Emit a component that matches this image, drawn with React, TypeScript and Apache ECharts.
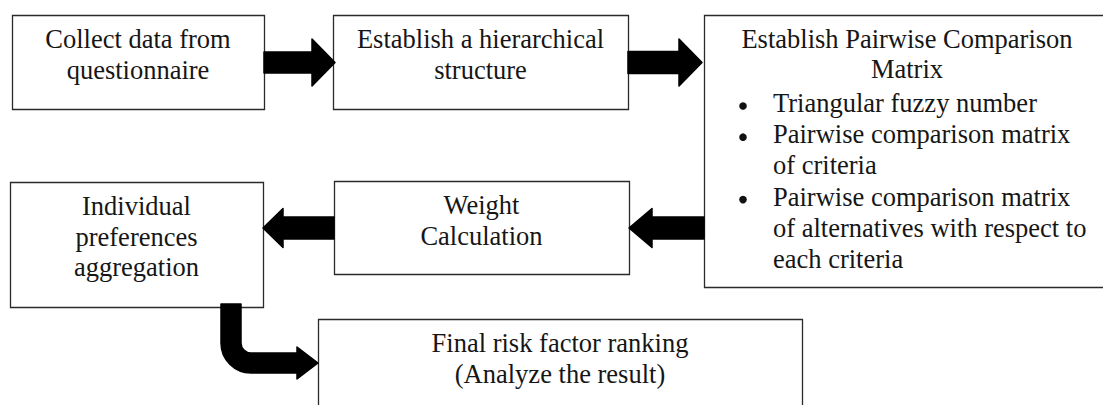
import React, { useEffect, useRef } from "react";
import * as echarts from "echarts";

// ---- content ----
const stepLabels: string[][] = [
  ["Collect data from", "questionnaire"],
  ["Establish a hierarchical", "structure"],
  ["Establish Pairwise Comparison", "Matrix"],
  ["Weight", "Calculation"],
  ["Individual", "preferences", "aggregation"],
  ["Final risk factor ranking", "(Analyze the result)"],
];
const matrixBullets: string[][] = [
  ["Triangular fuzzy number"],
  ["Pairwise comparison matrix", "of criteria"],
  ["Pairwise comparison matrix", "of alternatives with respect to", "each criteria"],
];
const flowLinks: [number, number][] = [
  [0, 1],
  [1, 2],
  [2, 3],
  [3, 4],
  [4, 5],
];

// ---- layout ----
const boxes = [
  { x: 12, y: 15, w: 252, h: 94 },
  { x: 333, y: 15, w: 295, h: 94 },
  { x: 704, y: 15, w: 406, h: 272 },
  { x: 334, y: 181, w: 295, h: 93 },
  { x: 10, y: 182, w: 253, h: 125 },
  { x: 318, y: 319, w: 484, h: 110 },
];
const straightLinkLayout = [
  { y: 62.5, shaft: 10.5, head: 23.5, headLen: 23, tipOffset: 2 },
  { y: 62.5, shaft: 11, head: 23.5, headLen: 23, tipOffset: -2 },
  { y: 228, shaft: 11, head: 19.5, headLen: 23, tipOffset: 0 },
  { y: 228, shaft: 11, head: 19.5, headLen: 20, tipOffset: 0 },
];

const FONT = "Liberation Serif";
const FONT_SIZE = 26.5;
const FIRST_BASELINE = 33;
const LINE_GAP = 30.5;
const MID_SHIFT = 9; // alphabetic baseline -> central
const TEXT_COLOR = "#161616";

function textLine(text: string, x: number, baseline: number, align: string) {
  return {
    type: "text",
    x,
    y: baseline - MID_SHIFT,
    silent: true,
    style: {
      text,
      fill: TEXT_COLOR,
      fontFamily: FONT,
      fontSize: FONT_SIZE,
      align,
      verticalAlign: "middle",
    },
  };
}

function buildGraphics() {
  const els: any[] = [];
  boxes.forEach((b) => {
    els.push({
      type: "rect",
      shape: { x: b.x + 0.5, y: b.y + 0.5, width: b.w, height: b.h },
      style: { fill: "#fff", stroke: "#2a2a2a", lineWidth: 1.3 },
      silent: true,
    });
  });
  stepLabels.forEach((lines, i) => {
    const b = boxes[i];
    const cx = b.x + b.w / 2;
    lines.forEach((t, k) => {
      els.push(textLine(t, cx, b.y + FIRST_BASELINE + k * (i === 2 ? 30 : LINE_GAP), "center"));
    });
  });
  const mb = boxes[2];
  let baseline = mb.y + FIRST_BASELINE + 30 + 34;
  const bulletGap = 31.2;
  matrixBullets.forEach((lines) => {
    els.push({
      type: "circle",
      shape: { cx: mb.x + 39, cy: baseline - 6, r: 3.8 },
      style: { fill: "#111" },
      silent: true,
    });
    lines.forEach((t) => {
      els.push(textLine(t, mb.x + 69, baseline, "left"));
      baseline += bulletGap;
    });
  });
  flowLinks.slice(0, 4).forEach(([from, to], i) => {
    const a = boxes[from];
    const c = boxes[to];
    const L = straightLinkLayout[i];
    const dir = c.x > a.x ? 1 : -1;
    const x0 = dir > 0 ? a.x + a.w : a.x;
    const x2 = (dir > 0 ? c.x : c.x + c.w) + dir * L.tipOffset;
    const x1 = x2 - dir * L.headLen;
    const y = L.y;
    els.push({
      type: "polygon",
      shape: {
        points: [
          [x0, y - L.shaft],
          [x1, y - L.shaft],
          [x1, y - L.head],
          [x2, y],
          [x1, y + L.head],
          [x1, y + L.shaft],
          [x0, y + L.shaft],
        ],
      },
      style: { fill: "#000", stroke: "#000", lineWidth: 1.5, lineJoin: "round" },
      silent: true,
    });
  });
  {
    const [from, to] = flowLinks[4];
    const a = boxes[from];
    const c = boxes[to];
    const sx = a.x + 221; // shaft centre x
    const half = 10;
    const top = a.y + a.h - 3;
    const cy = c.y + 44; // horizontal shaft centre y
    const r = 20;
    const tip = c.x;
    const hb = tip - 21;
    const hh = 16;
    const d =
      `M ${sx - half} ${top} L ${sx - half} ${cy - r} ` +
      `A ${r + half} ${r + half} 0 0 0 ${sx + r} ${cy + half} ` +
      `L ${hb} ${cy + half} L ${hb} ${cy + hh} L ${tip} ${cy} L ${hb} ${cy - hh} L ${hb} ${cy - half} ` +
      `L ${sx + r} ${cy - half} A ${r - half} ${r - half} 0 0 1 ${sx + half} ${cy - r} ` +
      `L ${sx + half} ${top} Z`;
    echarts.graphic.registerShape("flowCurveArrow", echarts.graphic.extendPath(d, {}));
    els.push({
      type: "flowCurveArrow",
      x: 0,
      y: 0,
      scaleX: 1,
      scaleY: 1,
      style: { fill: "#000", stroke: "#000", lineWidth: 1.5, lineJoin: "round" },
      silent: true,
    });
  }
  return els;
}

export default function App() {
  const ref = useRef<HTMLDivElement>(null);
  useEffect(() => {
    document.body.style.margin = "0";
    if (!ref.current) return;
    const chart = echarts.init(ref.current, null, { renderer: "svg" });
    chart.setOption({
      animation: false,
      backgroundColor: "#ffffff",
      graphic: { elements: buildGraphics() },
    });
    return () => chart.dispose();
  }, []);
  return <div ref={ref} style={{ width: 1103, height: 405 }} />;
}
